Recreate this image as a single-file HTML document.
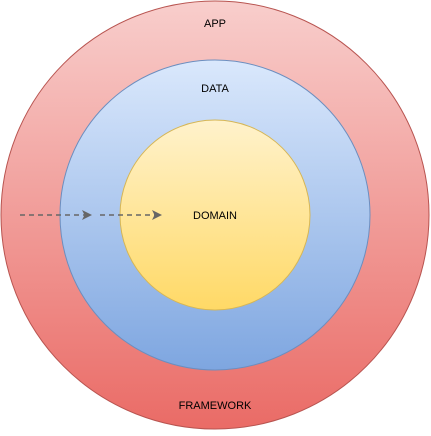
<!DOCTYPE html>
<html><head><meta charset="utf-8"><style>html,body{margin:0;padding:0;background:#fff}</style></head>
<body>
<svg width="431" height="431" viewBox="0 0 431 431" xmlns="http://www.w3.org/2000/svg">
<defs>
<linearGradient id="r" x1="0" y1="0" x2="0" y2="1"><stop offset="0" stop-color="#f8cecc"/><stop offset="1" stop-color="#ea6b66"/></linearGradient>
<linearGradient id="b" x1="0" y1="0" x2="0" y2="1"><stop offset="0" stop-color="#dae8fc"/><stop offset="1" stop-color="#7ea6e0"/></linearGradient>
<linearGradient id="y" x1="0" y1="0" x2="0" y2="1"><stop offset="0" stop-color="#fff2cc"/><stop offset="1" stop-color="#ffd966"/></linearGradient>
<marker id="a" markerWidth="10" markerHeight="10" refX="8" refY="5" orient="auto" markerUnits="userSpaceOnUse"><path d="M0,0 L10,5 L0,10 L2.5,5 z" fill="#666"/></marker>
</defs>
<circle cx="215" cy="215" r="214" fill="url(#r)" stroke="#b85450"/>
<circle cx="215" cy="215" r="155" fill="url(#b)" stroke="#6c8ebf"/>
<circle cx="215" cy="215" r="95" fill="url(#y)" stroke="#d6b656"/>
<g font-family="Liberation Sans, sans-serif" font-size="11" text-anchor="middle" fill="#000">
<text x="215" y="27">APP</text>
<text x="215" y="92">DATA</text>
<text x="215" y="219">DOMAIN</text>
<text x="215" y="409">FRAMEWORK</text>
</g>
<g stroke="#666" stroke-width="1.5" stroke-dasharray="5,4" fill="none">
<line x1="20" y1="215" x2="90" y2="215" marker-end="url(#a)"/>
<line x1="100" y1="215" x2="160" y2="215" marker-end="url(#a)"/>
</g>
</svg>
</body></html>
